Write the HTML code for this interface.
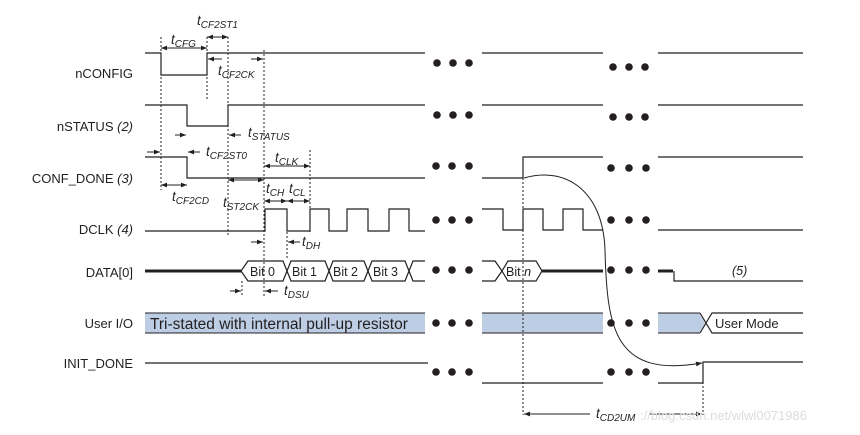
<!DOCTYPE html>
<html><head><meta charset="utf-8"><style>
body{margin:0;background:#fff}
svg{display:block}
text{font-family:"Liberation Sans",sans-serif;fill:#231f20}
.l{font-size:13px;text-anchor:end}
.t{font-size:13.5px;font-style:italic}
.s{font-size:10px;font-style:italic}
</style></head><body>
<svg width="860" height="435" viewBox="0 0 860 435" xmlns="http://www.w3.org/2000/svg">
<defs>
<marker id="a" viewBox="0 0 10 10" refX="10" refY="5" markerWidth="7" markerHeight="6" orient="auto-start-reverse"><path d="M0,1 L10,5 L0,9 z" fill="#231f20"/></marker>
</defs>
<g stroke="#231f20" fill="none" stroke-width="1.2">
<path d="M145,53 H161 V75 H207 V53 H425"/>
<path d="M482,53 H603 M658,53 H803"/>
<path d="M145,105 H187 V126 H228 V105 H425"/>
<path d="M482,105 H603 M658,105 H803"/>
<path d="M145,157 H187 V178 H425"/>
<path d="M482,178 H523 V157 H603 M658,157 H803"/>
<path d="M145,231 H265 V209 H287 V231 H310 V209 H329 V231 H347 V209 H368 V231 H389 V209 H409 V231 H425"/>
<path d="M482,209 H503 V230 H523 V209 H543 V230 H563 V209 H583 V230 H603"/>
<path d="M658,230 H803"/>
<path d="M145,271 H241" stroke-width="3"/>
<path d="M241,271 L248,261 H283 L291,281 H325 L333,261 H364 L372,281 H405 L413,261 H425"/>
<path d="M241,271 L248,281 H283 L291,261 H325 L333,281 H364 L372,261 H405 L413,281 H425"/>
<path d="M482,261 H495 L502,271 L495,281 H482"/>
<path d="M502,271 L508,261 H536 L542,271 L536,281 H508 Z"/>
<path d="M542,271 H603" stroke-width="3"/>
<path d="M658,271 H673" stroke-width="3"/>
<path d="M674,271 V281 H803"/>
<path d="M145,363 H428"/>
<path d="M482,383 H603 M658,383 H703 V362 H803"/>
<path d="M700,313 L706,323 L700,333 M706,323 L712,313 H803 M706,323 L712,333 H803"/>
</g>
<g fill="#bccde4" stroke="#231f20" stroke-width="1">
<rect x="145" y="313" width="280" height="20" stroke="none"/>
<path d="M145,313 H425 M145,333 H425" fill="none"/>
<rect x="482" y="313" width="121" height="20" stroke="none"/>
<path d="M482,313 H603 M482,333 H603" fill="none"/>
<path d="M658,313 H699 L705,323 L699,333 H658 Z" stroke="none"/>
<path d="M658,313 H700 M658,333 H700" fill="none"/>
</g>
<g fill="#231f20">
<circle cx="437" cy="63" r="3.8"/><circle cx="453" cy="63" r="3.8"/><circle cx="469" cy="63" r="3.8"/>
<circle cx="613" cy="67" r="3.8"/><circle cx="629" cy="67" r="3.8"/><circle cx="645" cy="67" r="3.8"/>
<circle cx="437" cy="115" r="3.8"/><circle cx="453" cy="115" r="3.8"/><circle cx="469" cy="115" r="3.8"/>
<circle cx="613" cy="117" r="3.8"/><circle cx="629" cy="117" r="3.8"/><circle cx="645" cy="117" r="3.8"/>
<circle cx="436" cy="166" r="3.8"/><circle cx="452" cy="166" r="3.8"/><circle cx="469" cy="166" r="3.8"/>
<circle cx="611" cy="168" r="3.8"/><circle cx="629" cy="168" r="3.8"/><circle cx="646" cy="168" r="3.8"/>
<circle cx="436" cy="220" r="3.8"/><circle cx="452" cy="220" r="3.8"/><circle cx="469" cy="220" r="3.8"/>
<circle cx="611" cy="220" r="3.8"/><circle cx="629" cy="220" r="3.8"/><circle cx="646" cy="220" r="3.8"/>
<circle cx="436" cy="270" r="3.8"/><circle cx="452" cy="270" r="3.8"/><circle cx="469" cy="270" r="3.8"/>
<circle cx="611" cy="270" r="3.8"/><circle cx="629" cy="270" r="3.8"/><circle cx="646" cy="270" r="3.8"/>
<circle cx="436" cy="323" r="3.8"/><circle cx="452" cy="323" r="3.8"/><circle cx="469" cy="323" r="3.8"/>
<circle cx="611" cy="323" r="3.8"/><circle cx="629" cy="323" r="3.8"/><circle cx="646" cy="323" r="3.8"/>
<circle cx="436" cy="372" r="3.8"/><circle cx="452" cy="372" r="3.8"/><circle cx="469" cy="372" r="3.8"/>
<circle cx="611" cy="372" r="3.8"/><circle cx="629" cy="372" r="3.8"/><circle cx="646" cy="372" r="3.8"/>
</g>
<g stroke="#231f20" stroke-width="1" stroke-dasharray="2,2" fill="none">
<path d="M161,37 V190 M207,37 V100 M228,37 V237 M264,50 V296 M310,150 V232 M242,281 V296 M287,232 V260 M523,178 V415 M703,362 V415"/>
</g>
<g stroke="#231f20" stroke-width="1" fill="none" marker-end="url(#a)">
<path d="M184,48 H161"/><path d="M184,48 H207"/>
<path d="M217,37 H207"/><path d="M217,37 H228"/>
<path d="M222,59 H208"/><path d="M251,59 H263"/>
<path d="M175,135 H186"/><path d="M241,135 H229"/>
<path d="M147,152 H160"/><path d="M200,152 H188"/>
<path d="M174,185 H161"/><path d="M174,185 H187"/>
<path d="M287,166 H264"/><path d="M287,166 H310"/>
<path d="M246,180 H228"/><path d="M246,180 H264"/>
<path d="M275,201 H264"/><path d="M275,201 H287"/>
<path d="M298,201 H287"/><path d="M298,201 H310"/>
<path d="M251,242 H263"/><path d="M300,242 H288"/>
<path d="M230,291 H241"/><path d="M278,291 H265"/>
<path d="M590,414 H524"/><path d="M650,414 H702"/>
<path d="M524,178 C 565,166 603,190 605,250 C 607,330 615,378 702,363"/>
</g>
<text class="l" x="133" y="78">nCONFIG</text>
<text class="l" x="133" y="131">nSTATUS <tspan font-style="italic">(2)</tspan></text>
<text class="l" x="133" y="183">CONF_DONE <tspan font-style="italic">(3)</tspan></text>
<text class="l" x="133" y="234">DCLK <tspan font-style="italic">(4)</tspan></text>
<text class="l" x="133" y="277">DATA[0]</text>
<text class="l" x="133" y="328">User I/O</text>
<text class="l" x="133" y="368">INIT_DONE</text>
<text x="150" y="329" font-size="15.5">Tri-stated with internal pull-up resistor</text>
<text x="715" y="328" font-size="13">User Mode</text>
<text x="250" y="276" font-size="12.5">Bit 0</text>
<text x="292" y="276" font-size="12.5">Bit 1</text>
<text x="333" y="276" font-size="12.5">Bit 2</text>
<text x="373" y="276" font-size="12.5">Bit 3</text>
<text x="506" y="276" font-size="12.5">Bit <tspan font-style="italic">n</tspan></text>
<text x="732" y="275" font-size="12.5" font-style="italic">(5)</text>
<text class="t" x="171" y="44">t<tspan class="s" dy="3">CFG</tspan></text>
<text class="t" x="197" y="25">t<tspan class="s" dy="3">CF2ST1</tspan></text>
<text class="t" x="218" y="75">t<tspan class="s" dy="3">CF2CK</tspan></text>
<text class="t" x="248" y="137">t<tspan class="s" dy="3">STATUS</tspan></text>
<text class="t" x="206" y="156">t<tspan class="s" dy="3">CF2ST0</tspan></text>
<text class="t" x="172" y="201">t<tspan class="s" dy="3">CF2CD</tspan></text>
<text class="t" x="275" y="162">t<tspan class="s" dy="3">CLK</tspan></text>
<text class="t" x="223" y="207">t<tspan class="s" dy="3">ST2CK</tspan></text>
<text class="t" x="266" y="193">t<tspan class="s" dy="3">CH</tspan></text>
<text class="t" x="289" y="193">t<tspan class="s" dy="3">CL</tspan></text>
<text class="t" x="302" y="246">t<tspan class="s" dy="3">DH</tspan></text>
<text class="t" x="284" y="295">t<tspan class="s" dy="3">DSU</tspan></text>
<text class="t" x="596" y="418">t<tspan class="s" dy="3">CD2UM</tspan></text>
<text x="640" y="420" font-size="13" style="fill:#dcdcdc">://blog.csdn.net/wlwl0071986</text>
</svg>
</body></html>
